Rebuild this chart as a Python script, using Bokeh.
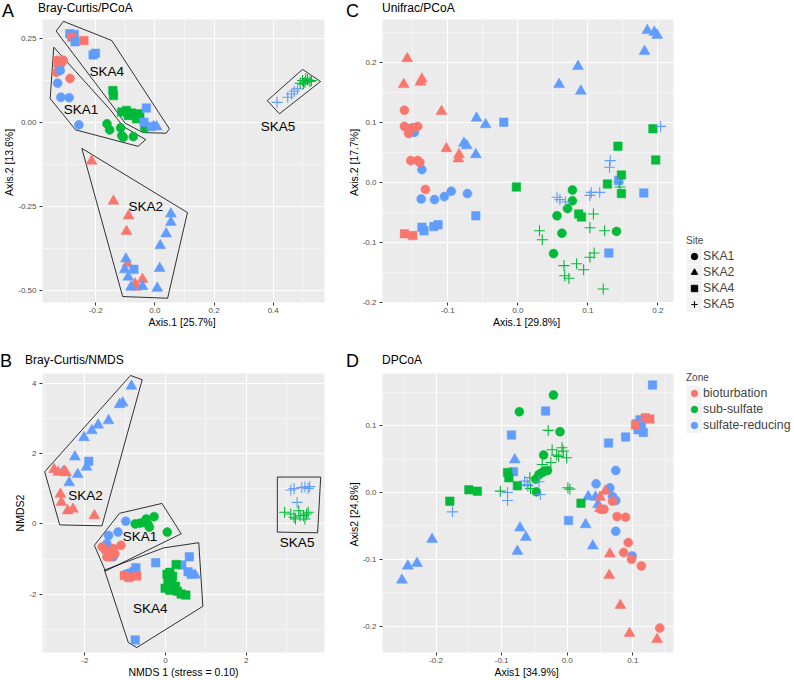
from bokeh.plotting import figure
from bokeh.models import (ColumnDataSource, FixedTicker, NumeralTickFormatter,
                          Legend, LegendItem, Range1d, Div)
from bokeh.layouts import row, column
from bokeh.core.properties import value
from bokeh.embed import file_html
from bokeh.resources import INLINE

FONT = "Liberation Sans"
ZONE_NAMES = {"b": "bioturbation", "s": "sub-sulfate", "r": "sulfate-reducing"}
ZONE_COLORS = {"b": "#F8766D", "s": "#00BA38", "r": "#619CFF"}
SITES = ["SKA1", "SKA2", "SKA4", "SKA5"]
MARKERS = {"SKA1": "circle", "SKA2": "triangle", "SKA4": "square", "SKA5": "cross"}
SIZES = {"SKA1": 9, "SKA2": 11, "SKA4": 8.5, "SKA5": 11}

# ---------------- Panel A : Bray-Curtis / PCoA ----------------
A_SKA1_X = [-0.330, -0.320, -0.327, -0.333, -0.317, -0.310, -0.287, -0.320, -0.329, -0.318, -0.290, -0.257,
            -0.162, -0.153, -0.116, -0.112, -0.107, -0.073, -0.034]
A_SKA1_Y = [0.185, 0.179, 0.170, 0.149, 0.176, 0.185, 0.131, 0.155, 0.117, 0.075, 0.074, -0.007,
            -0.004, -0.022, -0.016, -0.039, -0.044, -0.042, -0.017]
A_SKA1_Z = "bbbbbbbrrrrrsssssss"
A_SKA2_X = [-0.214, -0.140, -0.089, -0.096, -0.093, -0.042, -0.067, -0.062, -0.098, -0.102, -0.090, -0.081,
            -0.042, 0.008, 0.016, 0.018, 0.038, 0.054, 0.054, -0.004, 0.006]
A_SKA2_Y = [-0.115, -0.234, -0.278, -0.324, -0.420, -0.467, -0.480, -0.490, -0.406, -0.438, -0.460, -0.490,
            -0.488, -0.493, -0.434, -0.366, -0.331, -0.297, -0.272, -0.012, -0.013]
A_SKA2_Z = "bbbbbbbbrrrrrrrrrrrrr"
A_SKA4_X = [-0.288, -0.273, -0.281, -0.270, -0.240, -0.209, -0.201, -0.142, -0.140, -0.112, -0.096, -0.079,
            -0.068, -0.057, -0.051, -0.062, -0.090, -0.029, -0.037, -0.012, -0.071]
A_SKA4_Y = [0.264, 0.262, 0.254, 0.240, 0.244, 0.201, 0.206, 0.095, 0.080, 0.031, 0.036, 0.028,
            0.021, 0.026, 0.016, 0.011, 0.021, 0.043, 0.001, -0.012, -0.437]
A_SKA4_Z = "rrbrbrrssssssssssrrrr"
A_SKA5_X = [0.413, 0.449, 0.462, 0.471, 0.482, 0.491, 0.499, 0.507, 0.516, 0.524, 0.510, 0.529, 0.502]
A_SKA5_Y = [0.060, 0.075, 0.085, 0.093, 0.100, 0.117, 0.125, 0.120, 0.127, 0.122, 0.130, 0.125, 0.115]
A_SKA5_Z = "rrrrrssssssss"
A_HULLS = {
    "SKA4": ([-0.309, -0.146, 0.049, 0.038, -0.040, -0.101, -0.140, -0.334],
             [0.301, 0.244, -0.019, -0.032, -0.030, -0.002, 0.046, 0.272]),
    "SKA1": ([-0.342, -0.354, -0.268, -0.057, -0.031, -0.107, -0.151],
             [0.224, 0.071, -0.022, -0.071, -0.051, -0.012, 0.038]),
    "SKA2": ([-0.247, 0.110, 0.043, -0.109], [-0.077, -0.268, -0.523, -0.518]),
    "SKA5": ([0.380, 0.421, 0.560, 0.499], [0.065, 0.026, 0.122, 0.158]),
}
A_LABEL_X = [-0.163, -0.250, -0.031, 0.416]
A_LABEL_Y = [0.152, 0.039, -0.250, -0.012]
A_LABEL_T = ["SKA4", "SKA1", "SKA2", "SKA5"]

# ---------------- Panel B : Bray-Curtis / NMDS ----------------
B_SKA1_X = [-0.987, -1.181, -1.415, -1.455, -1.298, -1.572, -1.492, -1.415, -1.455, -1.338, -1.298, -1.258,
            -1.375, -1.104, -0.753, -0.636, -0.533, -0.480, -0.440, -0.402, -0.285, 0.042]
B_SKA1_Y = [0.076, -0.233, -0.329, -0.562, -0.935, -0.654, -0.750, -0.843, -0.935, -0.795, -0.702, -0.843,
            -0.935, -0.610, 0.000, 0.020, 0.048, 0.140, 0.000, -0.093, 0.205, -0.233]
B_SKA1_Z = "rrrrrbbbbbbbbbssssssss"
B_SKA2_X = [-0.847, -1.142, -1.064, -1.415, -1.673, -1.829, -2.023, -2.250, -1.960, -2.180, -2.391, -2.545,
            -2.765, -2.662, -2.468, -2.508, -2.608, -2.585, -2.428, -2.297, -1.766, 0.730]
B_SKA2_Y = [3.913, 3.390, 3.435, 2.930, 2.809, 2.649, 2.452, 1.902, 1.610, 1.404, 1.171, 1.480,
            1.545, 1.469, 1.452, 1.497, 0.843, 0.610, 0.374, 0.421, 0.233, -1.452]
B_SKA2_Z = "rrrrrrrrrrrrbbbbbbbbbr"
B_SKA4_X = [-1.906, -0.246, -0.737, -0.791, -0.870, -0.947, -0.753, 0.589, 0.402, 0.557, 0.636, -1.025,
            -0.908, -0.713, 0.262, 0.035, 0.105, 0.175, 0.058, 0.152, 0.246, -0.012, 0.105, 0.292, 0.386, 0.503]
B_SKA4_Y = [1.778, -1.104, -1.244, -1.357, -1.404, -1.433, -3.295, -0.935, -1.171, -1.357, -1.433, -1.469,
            -1.525, -1.480, -1.152, -1.433, -1.376, -1.489, -1.629, -1.713, -1.770, -1.826, -1.882, -1.910,
            -1.994, -2.022]
B_SKA4_Z = "rrrrrrrrrrrbbbssssssssssss"
B_SKA5_X = [3.106, 3.186, 3.380, 3.457, 3.537, 3.574, 3.263, 2.952, 3.106, 3.186, 3.223, 3.303, 3.340, 3.420,
            3.497, 3.537, 3.457]
B_SKA5_Y = [0.963, 1.003, 1.031, 1.048, 1.003, 1.059, 0.610, 0.329, 0.281, 0.188, 0.140, 0.374, 0.233, 0.233,
            0.281, 0.329, 0.140]
B_SKA5_Z = "rrrrrrrssssssssss"
B_HULLS = {
    "SKA2": ([-2.999, -0.870, -0.580, -1.579, -2.625], [1.480, 4.213, 4.093, -0.056, -0.028]),
    "SKA1": ([-1.766, -1.142, -0.089, 0.386, -1.492], [-0.610, 0.301, 0.581, -0.281, -1.340]),
    "SKA4": ([-1.516, -0.051, 0.823, 0.924, -0.713, -0.924], [-1.312, -0.683, -0.534, -2.340, -3.511, -3.371]),
    "SKA5": ([2.772, 3.848, 3.771, 2.772], [1.329, 1.329, -0.253, -0.233]),
}
B_LABEL_X = [-1.984, -0.636, -0.379, 3.263]
B_LABEL_Y = [0.815, -0.357, -2.416, -0.534]
B_LABEL_T = ["SKA2", "SKA1", "SKA4", "SKA5"]

# ---------------- Panel C : Unifrac / PCoA ----------------
C_SKA1_X = [-0.137, -0.138, -0.119, -0.105, -0.095, -0.072, -0.156, -0.148,
            -0.132, -0.162, -0.162, -0.150, -0.143, -0.156, -0.153, -0.143, -0.140,
            0.078, 0.078, 0.071, 0.056, 0.063, 0.141, 0.051]
C_SKA1_Y = [0.021, -0.028, -0.029, -0.024, -0.015, -0.019, 0.089, 0.083,
            -0.012, 0.120, 0.093, 0.091, 0.093, 0.081, 0.036, 0.036, 0.033,
            -0.013, -0.031, -0.044, -0.056, -0.085, -0.082, -0.119]
C_SKA1_Z = "rrrrrrrrbbbbbbbbbsssssss"
C_SKA2_X = [0.185, 0.195, 0.199, 0.181, 0.086, 0.059, 0.090, -0.059, -0.046, -0.077, -0.073, -0.060,
            -0.109, -0.102, -0.084, -0.085, -0.158, -0.137, -0.139, -0.163]
C_SKA2_Y = [0.253, 0.250, 0.245, 0.218, 0.193, 0.163, 0.152, 0.107, 0.096, 0.065, 0.061, 0.046,
            0.118, 0.056, 0.046, 0.039, 0.206, 0.172, 0.167, 0.163]
C_SKA2_Z = "rrrrrrrrrrrrbbbbbbbb"
C_SKA4_X = [-0.020, -0.060, -0.120, -0.114, -0.134, -0.137, 0.144, 0.180, 0.130,
            -0.002, 0.193, 0.143, 0.197, 0.148, 0.128, 0.148, 0.087, 0.091, -0.162, -0.150]
C_SKA4_Y = [0.100, -0.056, -0.074, -0.071, -0.081, -0.075, 0.003, -0.018, -0.118,
            -0.008, 0.089, 0.060, 0.037, 0.012, -0.003, -0.019, -0.053, -0.058, -0.086, -0.089]
C_SKA4_Z = "rrrrrrrrrsssssssssbb"
C_SKA5_X = [0.056, 0.060, 0.068, 0.103, 0.105, 0.117, 0.132, 0.131, 0.204, 0.144,
            0.031, 0.035, 0.108, 0.103, 0.124, 0.109, 0.103, 0.066, 0.084, 0.094, 0.067, 0.073, 0.122, 0.146]
C_SKA5_Y = [-0.025, -0.029, -0.033, -0.022, -0.017, -0.017, 0.036, 0.025, 0.093, 0.000,
            -0.081, -0.096, -0.053, -0.076, -0.081, -0.118, -0.125, -0.139, -0.136, -0.146, -0.156, -0.160,
            -0.178, -0.008]
C_SKA5_Z = "rrrrrrrrrrssssssssssssss"

# ---------------- Panel D : DPCoA ----------------
D_SKA1_X = [-0.021, -0.073, -0.011, -0.036, -0.043, -0.038, -0.035, -0.030, -0.048, -0.047,
            0.074, 0.044, 0.065, 0.069, 0.074, 0.074, 0.099,
            0.069, 0.056, 0.051, 0.076, 0.089, 0.093, 0.086, 0.098, 0.113, 0.141]
D_SKA1_Y = [0.146, 0.121, 0.091, 0.056, 0.027, 0.030, 0.032, 0.033, 0.020, 0.001,
            0.033, 0.013, 0.007, -0.006, -0.012, -0.058, -0.095,
            -0.013, -0.025, -0.025, -0.036, -0.037, -0.075, -0.090, -0.100, -0.110, -0.203]
D_SKA1_Z = "ssssssssssrrrrrrrbbbbbbbbbb"
D_SKA2_X = [-0.080, -0.072, -0.063, -0.076, -0.206, 0.032, 0.043, 0.047, 0.028, 0.039, -0.252, -0.243, -0.229,
            0.058, 0.050, 0.050, 0.065, 0.064, 0.081, 0.095, 0.137]
D_SKA2_Y = [0.049, -0.053, -0.067, -0.088, -0.070, -0.006, -0.007, -0.018, -0.048, -0.080, -0.131, -0.110, -0.106,
            0.002, -0.007, -0.024, -0.092, -0.124, -0.169, -0.211, -0.220]
D_SKA2_Z = "rrrrrrrrrrrrrbbbbbbbb"
D_SKA4_X = [-0.033, -0.085, -0.082, 0.130, 0.106, 0.111, 0.113, 0.108, 0.116, 0.089, 0.063, 0.002,
            0.119, 0.126, 0.104, -0.091, -0.089, -0.076, -0.150, -0.137, -0.179, 0.021]
D_SKA4_Y = [0.122, 0.086, 0.031, 0.161, 0.103, 0.109, 0.101, 0.094, 0.090, 0.083, 0.074, -0.042,
            0.112, 0.110, 0.101, 0.030, 0.022, 0.010, 0.004, 0.002, -0.013, -0.016]
D_SKA4_Z = "rrrrrrrrrrrrbbbsssssss"
D_SKA5_X = [-0.029, -0.023, -0.016, -0.008, -0.006, -0.013, -0.001, -0.025, -0.038, 0.001, 0.004, -0.057,
            -0.060, -0.056, -0.102, -0.065, -0.061, -0.043, -0.041, -0.091, -0.091, -0.175]
D_SKA5_Y = [0.093, 0.064, 0.056, 0.067, 0.062, 0.054, 0.052, 0.045, 0.042, 0.007, 0.005, 0.022,
            0.010, 0.006, 0.002, 0.017, 0.012, 0.016, -0.003, 0.000, -0.012, -0.029]
D_SKA5_Z = "sssssssssssssssrrrrrrr"

A_DATA = {"SKA1": (A_SKA1_X, A_SKA1_Y, A_SKA1_Z), "SKA2": (A_SKA2_X, A_SKA2_Y, A_SKA2_Z),
          "SKA4": (A_SKA4_X, A_SKA4_Y, A_SKA4_Z), "SKA5": (A_SKA5_X, A_SKA5_Y, A_SKA5_Z)}
B_DATA = {"SKA1": (B_SKA1_X, B_SKA1_Y, B_SKA1_Z), "SKA2": (B_SKA2_X, B_SKA2_Y, B_SKA2_Z),
          "SKA4": (B_SKA4_X, B_SKA4_Y, B_SKA4_Z), "SKA5": (B_SKA5_X, B_SKA5_Y, B_SKA5_Z)}
C_DATA = {"SKA1": (C_SKA1_X, C_SKA1_Y, C_SKA1_Z), "SKA2": (C_SKA2_X, C_SKA2_Y, C_SKA2_Z),
          "SKA4": (C_SKA4_X, C_SKA4_Y, C_SKA4_Z), "SKA5": (C_SKA5_X, C_SKA5_Y, C_SKA5_Z)}
D_DATA = {"SKA1": (D_SKA1_X, D_SKA1_Y, D_SKA1_Z), "SKA2": (D_SKA2_X, D_SKA2_Y, D_SKA2_Z),
          "SKA4": (D_SKA4_X, D_SKA4_Y, D_SKA4_Z), "SKA5": (D_SKA5_X, D_SKA5_Y, D_SKA5_Z)}


def make_header(w, h, letter, lx, ltop, title, tx, ttop):
    span = ("position:absolute;white-space:nowrap;color:#000;font-family:'Liberation Sans',Arial,sans-serif;"
            "font-weight:normal;margin:0;padding:0;")
    html = (f'<div style="position:relative;width:{w}px;height:{h}px;overflow:visible;margin:0;padding:0;">'
            f'<span style="{span}left:{lx}px;top:{ltop}px;font-size:18px;line-height:18px;">{letter}</span>'
            f'<span style="{span}left:{tx}px;top:{ttop}px;font-size:12px;line-height:12px;">{title}</span>'
            f'</div>')
    return Div(text=html, width=w, height=h, margin=(0, 0, 0, 0))


def make_panel(w, h, bl, br, bb, xr, yr, xt, xm, yt, ym, xfmt, yfmt, xlabel, ylabel):
    p = figure(width=w, height=h, x_range=Range1d(*xr), y_range=Range1d(*yr),
               output_backend="svg", toolbar_location=None,
               min_border_left=bl, min_border_right=br, min_border_top=0, min_border_bottom=bb)
    p.background_fill_color = "#EBEBEB"
    p.border_fill_color = "white"
    p.outline_line_color = None
    p.xaxis.ticker = FixedTicker(ticks=xt, minor_ticks=xm)
    p.yaxis.ticker = FixedTicker(ticks=yt, minor_ticks=ym)
    p.xaxis.formatter = NumeralTickFormatter(format=xfmt)
    p.yaxis.formatter = NumeralTickFormatter(format=yfmt)
    p.xaxis.axis_label = xlabel
    p.yaxis.axis_label = ylabel
    for ax in p.axis:
        ax.axis_line_color = None
        ax.major_tick_line_color = "#333333"
        ax.major_tick_out = 3
        ax.major_tick_in = 0
        ax.minor_tick_line_color = None
        ax.major_label_text_font = FONT
        ax.major_label_text_font_size = "8px"
        ax.major_label_text_color = "#4D4D4D"
        ax.axis_label_text_font = FONT
        ax.axis_label_text_font_size = "10.5px"
        ax.axis_label_text_font_style = "normal"
        ax.axis_label_text_color = "black"
        ax.axis_label_standoff = 0
    p.xaxis.major_label_standoff = 1
    p.yaxis.major_label_standoff = 2
    p.grid.grid_line_color = "white"
    p.grid.grid_line_width = 1.1
    p.grid.minor_grid_line_color = "white"
    p.grid.minor_grid_line_width = 0.5
    return p


def add_points(p, data):
    for site in SITES:
        xs, ys, zs = data[site]
        cols = [ZONE_COLORS[z] for z in zs]
        src = ColumnDataSource(dict(x=xs, y=ys, c=cols))
        if site == "SKA5":
            p.scatter("x", "y", source=src, marker="cross", size=SIZES[site], line_color="c", line_width=1.1)
        else:
            p.scatter("x", "y", source=src, marker=MARKERS[site], size=SIZES[site], fill_color="c",
                      line_color="c", line_width=0.5)


def add_hulls(p, hulls, lx, ly, lt):
    for name, (hx, hy) in hulls.items():
        p.patch(hx, hy, fill_color=None, line_color="black", line_width=0.8)
    p.text(x=lx, y=ly, text=lt, text_align="center", text_baseline="middle",
           text_font=value(FONT), text_font_size="13.5px", text_color="black")


W1, W2, W3 = 340, 345, 109
HH_TOP, HH_BOT = 19, 35
PH_TOP, PH_BOT = 319, 307

hA = make_header(W1, HH_TOP, "A", 2, 2, "Bray-Curtis/PCoA", 38, 2)
pA = make_panel(W1, PH_TOP, 38, 16, 36, (-0.38, 0.5733), (-0.5357, 0.3065),
                [-0.2, 0.0, 0.2, 0.4], [-0.3, -0.1, 0.1, 0.3, 0.5],
                [-0.5, -0.25, 0.0, 0.25], [-0.375, -0.125, 0.125], "0.0", "0.00",
                "Axis.1  [25.7%]", "Axis.2  [13.6%]")
add_hulls(pA, A_HULLS, A_LABEL_X, A_LABEL_Y, A_LABEL_T)
add_points(pA, A_DATA)

hB = make_header(W1, HH_BOT, "B", 0, 14, "Bray-Curtis/NMDS", 25, 16)
pB = make_panel(W1, PH_BOT, 25, 16, 25, (-3.053, 3.942), (-3.652, 4.27),
                [-2, 0, 2], [-3, -1, 1, 3], [-2, 0, 2, 4], [-3, -1, 1, 3], "0", "0",
                "NMDS 1 (stress = 0.10)", "NMDS2")
add_hulls(pB, B_HULLS, B_LABEL_X, B_LABEL_Y, B_LABEL_T)
add_points(pB, B_DATA)

hC = make_header(W2, HH_TOP, "C", 6, 2, "Unifrac/PCoA", 42, 2)
pC = make_panel(W2, PH_TOP, 42, 12, 36, (-0.1933, 0.2224), (-0.2005, 0.2712),
                [-0.1, 0.0, 0.1, 0.2], [-0.15, -0.05, 0.05, 0.15],
                [-0.2, -0.1, 0.0, 0.1, 0.2], [-0.15, -0.05, 0.05, 0.15, 0.25], "0.0", "0.0",
                "Axis.1  [29.8%]", "Axis.2  [17.7%]")
add_points(pC, C_DATA)

hD = make_header(W2, HH_BOT, "D", 6, 14, "DPCoA", 42, 16)
pD = make_panel(W2, PH_BOT, 42, 12, 25, (-0.2816, 0.162), (-0.2396, 0.1782),
                [-0.2, -0.1, 0.0, 0.1], [-0.25, -0.15, -0.05, 0.05, 0.15],
                [-0.2, -0.1, 0.0, 0.1], [-0.15, -0.05, 0.05, 0.15], "0.0", "0.0",
                "Axis1  [34.9%]", "Axis2  [24.8%]")
add_points(pD, D_DATA)

# ---------------- Legends ----------------
TOTAL_H = HH_TOP + PH_TOP + HH_BOT + PH_BOT
leg = figure(width=W3, height=TOTAL_H, output_backend="svg", toolbar_location=None,
             x_axis_type=None, y_axis_type=None, min_border=0, x_range=(0, 1), y_range=(0, 1))
leg.outline_line_color = None
leg.background_fill_color = "white"
leg.border_fill_color = "white"
NAN = [float("nan")]
key_bg = leg.line(x=NAN, y=NAN, line_color="#F2F2F2", line_width=16, line_cap="butt")
site_items = []
for site in SITES:
    if site == "SKA5":
        r = leg.scatter(x=NAN, y=NAN, marker="cross", size=8, line_color="black", line_width=1.1)
    else:
        r = leg.scatter(x=NAN, y=NAN, marker=MARKERS[site], size=8, fill_color="black", line_color="black")
    site_items.append(LegendItem(label=site, renderers=[key_bg, r]))
zone_items = []
for z in ["b", "s", "r"]:
    r = leg.scatter(x=NAN, y=NAN, marker="circle", size=8, fill_color=ZONE_COLORS[z], line_color=ZONE_COLORS[z])
    zone_items.append(LegendItem(label=ZONE_NAMES[z], renderers=[key_bg, r]))


def style_legend(items, title, loc):
    return Legend(items=items, title=title, location=loc, orientation="vertical",
                  glyph_width=16, glyph_height=16, label_height=16, label_width=10,
                  label_standoff=1, spacing=0, padding=0, margin=0,
                  border_line_color=None, background_fill_alpha=0,
                  label_text_font=FONT, label_text_font_size="12.3px", label_text_baseline="middle",
                  title_text_font=FONT, title_text_font_size="10px", title_text_font_style="normal",
                  title_standoff=2)


leg.add_layout(style_legend(site_items, "Site", (1, 368)), "center")
leg.add_layout(style_legend(zone_items, "Zone", (1, 247.5)), "center")

layout = row(column(hA, pA, hB, pB), column(hC, pC, hD, pD), leg)
open("out.html", "w").write(file_html(layout, INLINE))
